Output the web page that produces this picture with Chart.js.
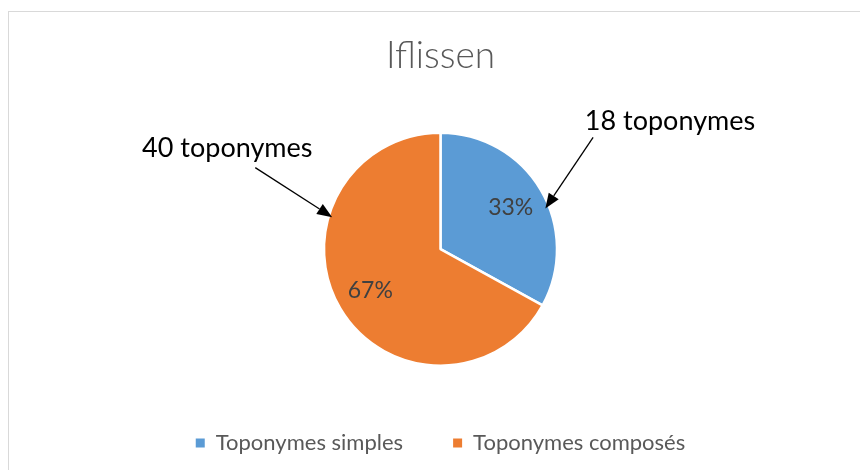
<!DOCTYPE html>
<html>
<head>
<meta charset="utf-8">
<script src="https://cdn.jsdelivr.net/npm/chart.js@4/dist/chart.umd.min.js"></script>
<style>
  html, body { margin: 0; padding: 0; background: #fff; overflow: hidden; width: 860px; height: 470px; }
  #frame { position: absolute; left: 8px; top: 11px; width: 900px; height: 520px; border-top: 1px solid #d9d9d9; border-left: 1px solid #d9d9d9; box-sizing: border-box; }
  #c { position: absolute; left: 0; top: 0; }
</style>
</head>
<body>
<div id="frame"></div>
<canvas id="c" width="860" height="464"></canvas>
<script>
// ---- data ----
const chartTitle = 'Iflissen';
const categories = ['Toponymes simples', 'Toponymes composés'];
const percentages = [33, 67];
const counts = [18, 40];
const countLabels = counts.map(n => n + ' toponymes');
const colors = ['#5B9BD5', '#ED7D31'];

// annotation geometry relative to each slice (in units of pie radius, from centre)
const annotTextPos = [[1.97, -1.10], [-1.83, -0.87]];
const annotLineStart = [[1.31, -0.96], [-1.59, -0.70]];
const annotTip = [[0.90, -0.35], [-0.93, -0.275]];

const FONT = 'Lato, "Open Sans", sans-serif';

const labelsPlugin = {
  id: 'sliceLabels',
  afterDatasetsDraw(chart) {
    const ctx = chart.ctx;
    const meta = chart.getDatasetMeta(0);
    ctx.save();
    meta.data.forEach((arc, i) => {
      const mid = (arc.startAngle + arc.endAngle) / 2;
      const r = arc.outerRadius * 0.7;
      const x = arc.x + Math.cos(mid) * r;
      const y = arc.y + Math.sin(mid) * r;
      ctx.fillStyle = '#404040';
      ctx.font = '23px ' + FONT;
      ctx.textAlign = 'center';
      ctx.textBaseline = 'middle';
      ctx.fillText(percentages[i] + '%', x, y);
    });
    // annotations
    meta.data.forEach((arc, i) => {
      const R = arc.outerRadius, cx = arc.x, cy = arc.y;
      const tx = cx + annotTextPos[i][0] * R, ty = cy + annotTextPos[i][1] * R;
      ctx.fillStyle = '#000';
      ctx.font = '27px ' + FONT;
      ctx.textAlign = 'center';
      ctx.textBaseline = 'middle';
      ctx.fillText(countLabels[i], tx, ty);
      const sx = cx + annotLineStart[i][0] * R, sy = cy + annotLineStart[i][1] * R;
      const ex = cx + annotTip[i][0] * R, ey = cy + annotTip[i][1] * R;
      const ang = Math.atan2(ey - sy, ex - sx);
      const hl = 15, hw = 6;
      const bx = ex - Math.cos(ang) * hl, by = ey - Math.sin(ang) * hl;
      ctx.strokeStyle = '#000';
      ctx.lineWidth = 1.3;
      ctx.beginPath();
      ctx.moveTo(sx, sy);
      ctx.lineTo(bx, by);
      ctx.stroke();
      ctx.beginPath();
      ctx.moveTo(ex, ey);
      ctx.lineTo(bx + Math.sin(ang) * hw, by - Math.cos(ang) * hw);
      ctx.lineTo(bx - Math.sin(ang) * hw, by + Math.cos(ang) * hw);
      ctx.closePath();
      ctx.fillStyle = '#000';
      ctx.fill();
    });
    ctx.restore();
  }
};

new Chart(document.getElementById('c'), {
  type: 'pie',
  data: {
    labels: categories,
    datasets: [{
      data: percentages,
      backgroundColor: colors,
      borderColor: '#ffffff',
      borderWidth: 2.5,
      radius: 116.5
    }]
  },
  options: {
    responsive: false,
    animation: false,
    layout: { padding: { left: 21, right: 0, top: 0, bottom: 0 } },
    plugins: {
      title: {
        display: true,
        text: chartTitle,
        color: '#595959',
        font: { family: FONT, size: 37, weight: '300' },
        padding: { top: 34, bottom: 38 }
      },
      legend: {
        position: 'bottom',
        labels: {
          color: '#595959',
          font: { family: FONT, size: 22 },
          boxWidth: 9,
          boxHeight: 9,
          padding: 50,
          generateLabels: (chart) => Chart.overrides.pie.plugins.legend.labels.generateLabels(chart).map(l => Object.assign(l, { lineWidth: 0 }))
        }
      },
      tooltip: { enabled: false }
    }
  },
  plugins: [labelsPlugin]
});
</script>
</body>
</html>
